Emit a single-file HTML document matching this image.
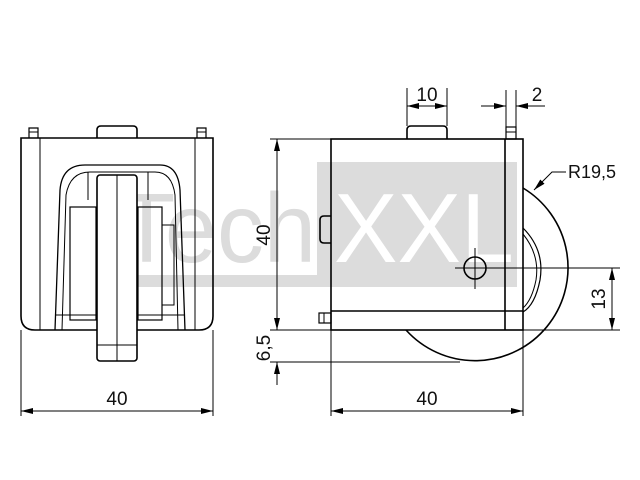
<!DOCTYPE html>
<html><head><style>html,body{margin:0;padding:0;background:#fff}svg{display:block}</style></head>
<body>
<svg width="640" height="480" viewBox="0 0 640 480" xmlns="http://www.w3.org/2000/svg" font-family="Liberation Sans, sans-serif">
<defs>
<marker id="a" viewBox="0 0 12 6" refX="12" refY="3" markerWidth="12" markerHeight="6" orient="auto-start-reverse" markerUnits="userSpaceOnUse"><path d="M0,0L12,3L0,6z" fill="#000"/></marker>
</defs>
<!-- watermark -->
<rect x="317" y="162" width="200" height="125" fill="#dcdcdc"/>
<rect x="117" y="275" width="200" height="12" fill="#dcdcdc"/>
<text x="118" y="262" font-size="98" fill="#dcdcdc" textLength="198" lengthAdjust="spacingAndGlyphs">Tech</text>
<text x="334" y="262" font-size="98" fill="#fff" textLength="180" lengthAdjust="spacingAndGlyphs">XXL</text>

<g fill="none" stroke="#000" stroke-width="1.6">
<!-- left view -->
<path d="M21,138 H213 V316 Q213,330 199,330 H35 Q21,330 21,316 Z"/>
<line x1="40" y1="138" x2="40" y2="330" stroke-width="1"/>
<line x1="195" y1="138" x2="195" y2="330" stroke-width="1"/>
<path d="M29,138 V128 H38 V138 M197,138 V128 H206 V138" stroke-width="1.2"/>
<line x1="29" y1="132" x2="38" y2="132" stroke-width="1"/><line x1="197" y1="132" x2="206" y2="132" stroke-width="1"/>
<path d="M97,138 V130 Q97,126 101,126 H133 Q137,126 137,130 V138"/>
<path d="M55,330 L60,190 Q62,165 85,165 H160 Q178,165 180,190 L185,330" stroke-width="1.3"/>
<path d="M62,330 L66,195 Q70,172 90,172 H155 Q172,172 175,195 L178,330" stroke-width="1"/>
<rect x="70" y="207" width="26" height="113" stroke-width="1.2"/>
<rect x="138" y="207" width="24" height="113" stroke-width="1.2"/>
<rect x="162" y="225" width="12" height="80" stroke-width="1"/>
<line x1="55" y1="315" x2="185" y2="315" stroke-width="1"/>
<line x1="88" y1="172" x2="88" y2="200" stroke-width="1"/><line x1="148" y1="172" x2="148" y2="200" stroke-width="1"/>
<rect x="97" y="175" width="40" height="186" rx="3" fill="#fff" stroke-width="1.6"/>
<line x1="117" y1="175" x2="117" y2="361" stroke-width="1"/>
<line x1="97" y1="345" x2="137" y2="345" stroke-width="1"/>

<!-- right view wheel -->
<path d="M523,188 A93,93 0 1 1 406,330"/>
<path d="M523,228 Q545,250 540,280 Q535,305 523,312" stroke-width="1.2"/>
<path d="M523,234 Q540,255 536,280 Q532,300 523,308" stroke-width="1"/>
<!-- box -->
<rect x="331" y="139" width="192" height="191" fill="none"/>
<line x1="505" y1="139" x2="505" y2="330"/>
<line x1="331" y1="311" x2="523" y2="311"/>
<path d="M407,139 V130 Q407,126 411,126 H443 Q447,126 447,130 V139"/>
<rect x="506" y="127" width="10" height="12" stroke-width="1.2"/>
<line x1="506" y1="132" x2="516" y2="132" stroke-width="1"/>
<path d="M331,216 H324 Q320,216 320,220 V239 Q320,243 324,243 H331"/>
<rect x="319" y="313" width="12" height="10" stroke-width="1.2"/>
<line x1="324" y1="313" x2="324" y2="323" stroke-width="1"/>
<circle cx="475" cy="268" r="11"/>
</g>

<g stroke="#000" stroke-width="1" fill="none">
<line x1="455" y1="268" x2="620" y2="268"/>
<line x1="475" y1="248" x2="475" y2="289"/>
<!-- left 40 -->
<line x1="21" y1="330" x2="21" y2="416"/><line x1="213" y1="330" x2="213" y2="416"/>
<line x1="21" y1="411" x2="213" y2="411" marker-start="url(#a)" marker-end="url(#a)"/>
<!-- right bottom 40 -->
<line x1="331" y1="330" x2="331" y2="416"/><line x1="523" y1="330" x2="523" y2="416"/>
<line x1="331" y1="411" x2="523" y2="411" marker-start="url(#a)" marker-end="url(#a)"/>
<!-- vertical 40 -->
<line x1="270" y1="139" x2="331" y2="139"/>
<line x1="270" y1="330" x2="620" y2="330"/>
<line x1="270" y1="362" x2="460" y2="362"/>
<line x1="277" y1="139" x2="277" y2="330" marker-start="url(#a)" marker-end="url(#a)"/>
<line x1="277" y1="385" x2="277" y2="362" marker-end="url(#a)"/>
<!-- 13 -->
<line x1="612" y1="268" x2="612" y2="330" marker-start="url(#a)" marker-end="url(#a)"/>
<!-- 10 -->
<line x1="407" y1="88" x2="407" y2="126"/><line x1="447" y1="88" x2="447" y2="126"/>
<line x1="407" y1="106" x2="447" y2="106" marker-start="url(#a)" marker-end="url(#a)"/>
<!-- 2 -->
<line x1="506" y1="90" x2="506" y2="127"/><line x1="516" y1="90" x2="516" y2="127"/>
<line x1="481" y1="106" x2="506" y2="106" marker-end="url(#a)"/>
<line x1="545" y1="106" x2="516" y2="106" marker-end="url(#a)"/>
<!-- R leader -->
<path d="M566,172 H552 L534,190" marker-end="url(#a)"/>
</g>

<g font-size="19" fill="#111" text-anchor="middle">
<text x="117" y="405">40</text>
<text x="427" y="405">40</text>
<text x="427" y="101">10</text>
<text x="537" y="101">2</text>
<text x="568" y="178" text-anchor="start" font-size="18">R19,5</text>
<text transform="translate(270,235) rotate(-90)">40</text>
<text transform="translate(270,348) rotate(-90)">6,5</text>
<text transform="translate(605,299) rotate(-90)">13</text>
</g>
</svg>
</body></html>
